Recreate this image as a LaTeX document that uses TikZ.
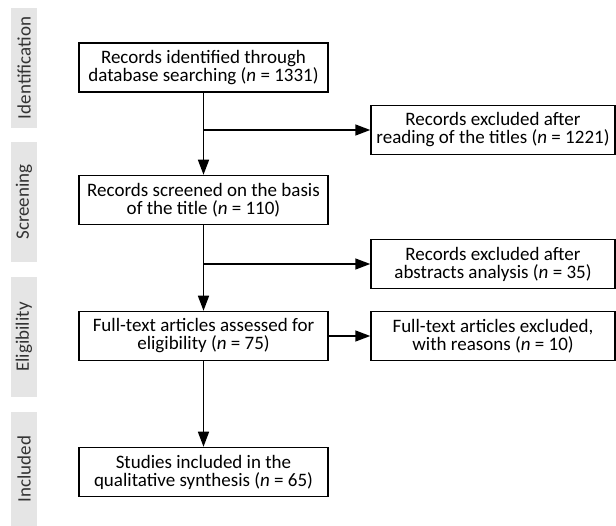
\documentclass[tikz,border=0pt]{standalone}
\usepackage{fontspec}
\setmainfont{Carlito}
\usetikzlibrary{positioning, calc, arrows.meta}
\tikzset{>={Triangle[length=15pt, width=11pt]}}

\begin{document}
\begin{tikzpicture}[x=1pt, y=-1pt]

\tikzstyle{phase}=[fill=gray!20, rotate=90, minimum width=120pt, minimum height=26pt, inner sep=0pt, text=black!80, font=\fontsize{19}{18}\selectfont]
\tikzstyle{box}=[draw=black, line width=1.5pt, rectangle, minimum width=249pt, minimum height=49pt, inner sep=0pt, align=center, font=\fontsize{19}{18}\selectfont]
\tikzstyle{excl}=[box, minimum width=244pt]
\tikzstyle{flow}=[draw=black, line width=1.5pt, ->]

\useasboundingbox (0, 0) rectangle (616, 526);

% phases
\node [phase] (phase-id) at (24, 68) {Identification};
\node [phase] (phase-scr) at (24, 202) {Screening};
\node [phase] (phase-elig) at (24, 337) {Eligibility};
\node [phase, minimum width=114pt] (phase-incl) at (24, 469) {Included};

% main column
\node [box] (ident) at (203.5, 67.5) {Records identified through\\database searching (\textit{n} = 1331)};
\node [box] (screen) at (203.5, 200) {Records screened on the basis\\of the title (\textit{n} = 110)};
\node [box] (elig) at (203.5, 336) {Full-text articles assessed for\\eligibility (\textit{n} = 75)};
\node [box] (incl) at (203.5, 472) {Studies included in the\\qualitative synthesis (\textit{n} = 65)};

% exclusions
\node [excl] (excl-titles) at (493, 130) {Records excluded after\\reading of the titles (\textit{n} = 1221)};
\node [excl] (excl-abstr) at (493, 264) {Records excluded after\\abstracts analysis (\textit{n} = 35)};
\node [excl] (excl-full) at (493, 336) {Full-text articles excluded,\\with reasons (\textit{n} = 10)};

\coordinate (split-1) at (ident.south |- excl-titles.west);
\coordinate (split-2) at (screen.south |- excl-abstr.west);

\draw [flow] (ident) -- (screen);
\draw [flow] (screen) -- (elig);
\draw [flow] (elig) -- (incl);
\draw [flow] (split-1) -- (excl-titles);
\draw [flow] (split-2) -- (excl-abstr);
\draw [flow] (elig) -- (excl-full);

\end{tikzpicture}
\end{document}
